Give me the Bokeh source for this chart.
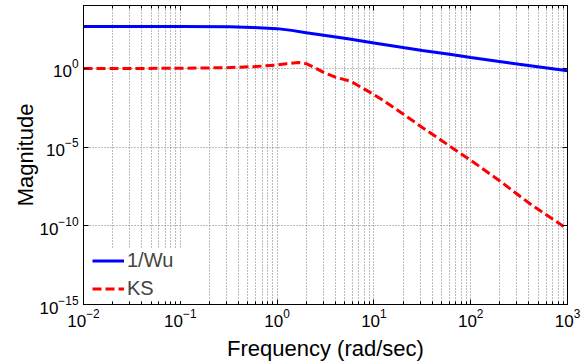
from bokeh.plotting import figure
from bokeh.models import FixedTicker, LogAxis, Legend, LegendItem, Range1d, CustomJSTickFormatter
from bokeh.embed import file_html
from bokeh.resources import INLINE

# ---- data ----
freq_wu = [0.01, 0.1, 0.32, 0.56, 1.0, 1.41, 2.0, 3.16, 5.6, 10, 20, 31.6, 63, 100, 316, 1000]
mag_wu = [468, 457, 440, 400, 339, 263, 186, 126, 74, 42, 21.4, 13.8, 7.6, 5.0, 1.86, 0.71]

freq_ks = [0.01, 0.03, 0.1, 0.3, 0.6, 1.0, 1.25, 1.66, 2.0, 2.5, 2.95, 4.0, 5.8,
           7.9, 10, 12.6, 20, 31.6, 63, 100, 200, 400, 1000]
mag_ks = [1.0, 1.0, 1.02, 1.12, 1.32, 1.66, 2.0, 2.4, 2.0, 1.05, 0.6, 0.28, 0.15,
          0.05, 0.022, 0.0089, 1.29e-3, 1.78e-4, 1.0e-5, 1.48e-6, 7.1e-8, 2.8e-9, 6.3e-11]

series_labels = ["1/Wu", "KS"]
x_ticks = [1e-2, 1e-1, 1e0, 1e1, 1e2, 1e3]
x_minor = [k * d for d in [1e-2, 1e-1, 1e0, 1e1, 1e2] for k in range(2, 10)]
y_ticks = [1e-15, 1e-10, 1e-5, 1e0]
x_label = "Frequency (rad/sec)"
y_label = "Magnitude"

FONT = "Liberation Sans"
GRID = "#7a7a7a"

p = figure(width=582, height=363, x_axis_type="log", y_axis_type="log",
           x_range=Range1d(1e-2, 1e3), y_range=Range1d(1e-15, 1e4),
           output_backend="svg", toolbar_location=None,
           min_border_left=83, min_border_right=15, min_border_top=5,
           min_border_bottom=56)

p.outline_line_color = "black"
p.outline_line_width = 1

for ax, ticks, minor in ((p.xaxis[0], x_ticks, x_minor), (p.yaxis[0], y_ticks, [])):
    ax.ticker = FixedTicker(ticks=ticks, minor_ticks=minor)
    ax.major_label_text_font = FONT
    ax.major_label_text_font_size = "17px"
    ax.major_label_text_color = "black"
    ax.axis_label_text_font = FONT
    ax.axis_label_text_font_size = "22px"
    ax.axis_label_text_font_style = "normal"
    ax.axis_label_text_color = "black"
    ax.major_tick_in = 5
    ax.major_tick_out = 0
    ax.minor_tick_in = 3
    ax.minor_tick_out = 0
    ax.axis_line_color = "black"
    ax.major_tick_line_color = "black"
    ax.minor_tick_line_color = "black"

p.xaxis.axis_label = x_label
p.yaxis.axis_label = y_label
p.xaxis.axis_label_standoff = 6
p.yaxis.axis_label_standoff = -2
p.xaxis.major_label_standoff = 4
p.yaxis.major_label_standoff = 5

blank = CustomJSTickFormatter(code="return ''")
for ticks, minor, place in ((x_ticks, x_minor, "above"), (y_ticks, [], "right")):
    ax = LogAxis(ticker=FixedTicker(ticks=ticks, minor_ticks=minor),
                 formatter=blank, major_label_text_font_size="1px",
                 major_label_standoff=0,
                 major_tick_in=5, major_tick_out=0, minor_tick_in=3, minor_tick_out=0,
                 axis_line_color="black")
    p.add_layout(ax, place)

p.xgrid.grid_line_color = GRID
p.xgrid.grid_line_dash = "1 2"
p.xgrid.minor_grid_line_color = GRID
p.xgrid.minor_grid_line_dash = "1 2"
p.ygrid.grid_line_color = GRID
p.ygrid.grid_line_dash = "1 2"

r1 = p.line(freq_wu, mag_wu, line_color="#0000ff", line_width=3)
r2 = p.line(freq_ks, mag_ks, line_color="#ff0000", line_width=3, line_dash="9 4")

legend = Legend(items=[LegendItem(label=series_labels[0], renderers=[r1]),
                       LegendItem(label=series_labels[1], renderers=[r2])],
                location=(9, 3), padding=1, spacing=3, margin=0,
                glyph_width=32, glyph_height=25, label_height=25, label_width=60,
                label_standoff=3, border_line_color=None,
                background_fill_color="white", background_fill_alpha=1,
                label_text_font=FONT, label_text_font_size="20px")
p.add_layout(legend)

open("out.html", "w").write(file_html(p, INLINE))
